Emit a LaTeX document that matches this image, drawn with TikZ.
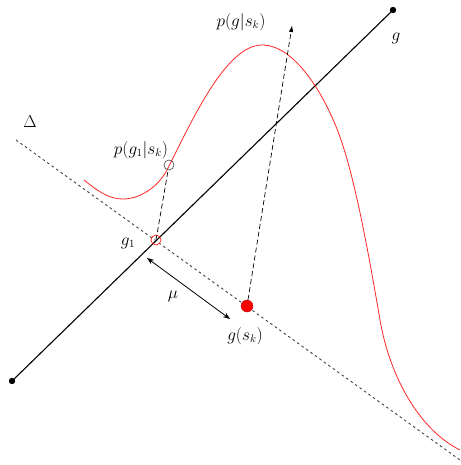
\documentclass[tikz,border=0pt]{standalone}
\usepackage{tikz}
\usetikzlibrary{arrows.meta}

\begin{document}
\begin{tikzpicture}[x=1pt,y=-1pt,
  lbl/.style={font=\fontsize{16}{18}\selectfont, inner sep=1pt},
  axis/.style={line width=1.1pt},
  proj/.style={dashed, dash pattern=on 5pt off 3pt, line width=0.7pt},
  dist/.style={dotted, dash pattern=on 2.5pt off 3pt, line width=0.9pt, black!75}]
\useasboundingbox (0,0) rectangle (460,465);
% lines
\coordinate (ga) at (12,381);
\coordinate (gb) at (393,10);
\coordinate (da) at (16,140);
\coordinate (db) at (460,460);
\draw[axis] (ga) -- (gb);
\fill (ga) circle (3.2);
\fill (gb) circle (3.2);
\draw[dist] (da) -- (db);
% red curve
\draw[red!85, line width=0.8pt] (84,180) .. controls (100,193) and (110,199) .. (123,199)
  .. controls (140,199) and (158,187) .. (167,170)
  .. controls (190,125) and (225,45) .. (262,45)
  .. controls (295,45) and (325,95) .. (340,137)
  .. controls (355,179) and (368,250) .. (380,320)
  .. controls (390,378) and (420,430) .. (460,450);
% points
\node[draw=red, circle, inner sep=0pt, minimum size=10pt, line width=0.6pt] (g1) at (156,240) {};
\node[draw=black!75, circle, inner sep=0pt, minimum size=10pt, line width=0.6pt] (pg1) at (169,165) {};
\node[fill=red, draw=red!70!black, circle, inner sep=0pt, minimum size=12pt] (gs) at (247,306) {};
\coordinate (top) at (292,26);
\draw[proj] (g1.center) -- (pg1);
\draw[proj, -{Triangle[length=6pt, width=4pt]}] (gs) -- (top);
\coordinate (ma) at (147,258);
\coordinate (mb) at (230,319);
\draw[line width=0.8pt, {Stealth[length=7pt]}-{Stealth[length=7pt]}] (ma) -- (mb);
% labels
\node[lbl] (lg) at (396,38) {$g$};
\node[lbl] (ldelta) at (30,122) {$\Delta$};
\node[lbl] (lpg) at (241,22) {$p(g|s_k)$};
\node[lbl] (lpg1) at (141,150) {$p(g_1|s_k)$};
\node[lbl] (lg1) at (128,243) {$g_1$};
\node[lbl] (lmu) at (173,296) {$\mu$};
\node[lbl] (lgs) at (245,336) {$g(s_k)$};
\end{tikzpicture}
\end{document}
